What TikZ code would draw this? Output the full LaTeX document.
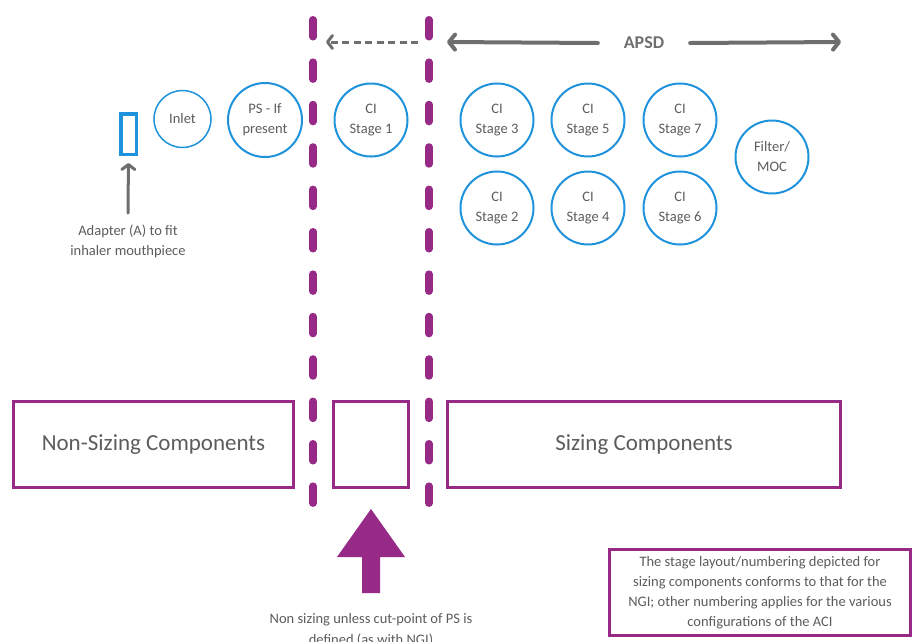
\documentclass[tikz,border=0pt]{standalone}
\usepackage{fontspec}
\setmainfont{Carlito}
\usetikzlibrary{arrows.meta}
\definecolor{cblue}{RGB}{30,146,218}
\definecolor{cpurple}{RGB}{150,42,134}
\definecolor{tgray}{RGB}{92,92,92}
\definecolor{agray}{RGB}{110,110,110}
\begin{document}
\begin{tikzpicture}[x=1pt,y=-1pt,
  stage/.style={circle, draw=cblue, line width=2pt, minimum size=73pt, inner sep=0pt,
    align=center, font=\fontsize{14.5}{20}\selectfont, text=tgray},
  pbox/.style={draw=cpurple, line width=3pt, inner sep=0pt, text=tgray},
  cutline/.style={cpurple, line width=7.5pt, line cap=round, dash pattern=on 17pt off 25.4pt},
  small/.style={align=center, font=\fontsize{14.5}{20}\selectfont, text=tgray},
  garrow/.style={agray, line width=4pt, line cap=round,
    -{Straight Barb[round,length=6pt,width=15pt]}},
]
\useasboundingbox (0,0) rectangle (914,641);

% cut lines
\coordinate (c1t) at (313,19.75);
\coordinate (c1b) at (313,503.25);
\coordinate (c2t) at (429,19.75);
\coordinate (c2b) at (429,503.25);
\draw[cutline] (c1t) -- (c1b);
\draw[cutline] (c2t) -- (c2b);

% top arrows
\coordinate (ds) at (418,42);
\coordinate (de) at (326,42);
\draw[agray, line width=3pt, dash pattern=on 7pt off 4.5pt,
  -{Straight Barb[round,length=5pt,width=13pt]}] (ds) -- (de);

\node[inner sep=0pt, outer xsep=26pt, font=\fontsize{18}{20}\selectfont\bfseries, text=agray] (apsd) at (644,43) {APSD};
\coordinate (la) at (447,42);
\coordinate (ra) at (841,42);
\draw[garrow] (apsd.west) -- (la);
\draw[garrow] (apsd.east) -- (ra);

% adapter
\node[draw=cblue, line width=3.5pt, minimum width=15.5pt, minimum height=40.5pt, inner sep=0pt] (ad) at (128.5,134) {};
\node[small] (adt) at (128,241) {Adapter (A) to fit\\inhaler mouthpiece};
\coordinate (adb) at (128,213);
\draw[agray, line width=3pt, line cap=round, shorten >=7pt,
  -{Straight Barb[round,length=5pt,width=13pt]}] (adb) -- (ad.south);

% circles
\node[stage, line width=1.5pt, minimum size=57pt] (inlet) at (182.5,119) {Inlet};
\node[stage, minimum size=74pt] (ps) at (265,120) {PS - If\\present};
\node[stage] (s1) at (371,120) {CI\\Stage 1};
\node[stage] (s3) at (497,120) {CI\\Stage 3};
\node[stage] (s5) at (588,120) {CI\\Stage 5};
\node[stage] (s7) at (680,120) {CI\\Stage 7};
\node[stage] (s2) at (497,208) {CI\\Stage 2};
\node[stage] (s4) at (588,208) {CI\\Stage 4};
\node[stage] (s6) at (680,208) {CI\\Stage 6};
\node[stage] (moc) at (772,157) {Filter/\\MOC};

% boxes
\node[pbox, minimum width=280pt, minimum height=86pt, font=\fontsize{23}{26}\selectfont] (ns) at (153.5,444.5) {Non-Sizing Components};
\node[pbox, minimum width=75pt, minimum height=86pt] (mid) at (371,444.5) {};
\node[pbox, minimum width=393pt, minimum height=86pt, font=\fontsize{23}{26}\selectfont] (sz) at (644,444.5) {Sizing Components};

% purple block arrow
\fill[cpurple] (362,593) -- (362,557) -- (337,557) -- (371,509) -- (405,557) -- (380,557) -- (380,593) -- cycle;
\node[small, font=\fontsize{14.5}{21}\selectfont] (nst) at (371,630) {Non sizing unless cut-point of PS is\\defined (as with NGI)};

% note
\node[pbox, minimum width=301pt, minimum height=86pt, small] (note) at (760,592.5)
  {The stage layout/numbering depicted for\\sizing components conforms to that for the\\NGI; other numbering applies for the various\\configurations of the ACI};
\end{tikzpicture}
\end{document}
